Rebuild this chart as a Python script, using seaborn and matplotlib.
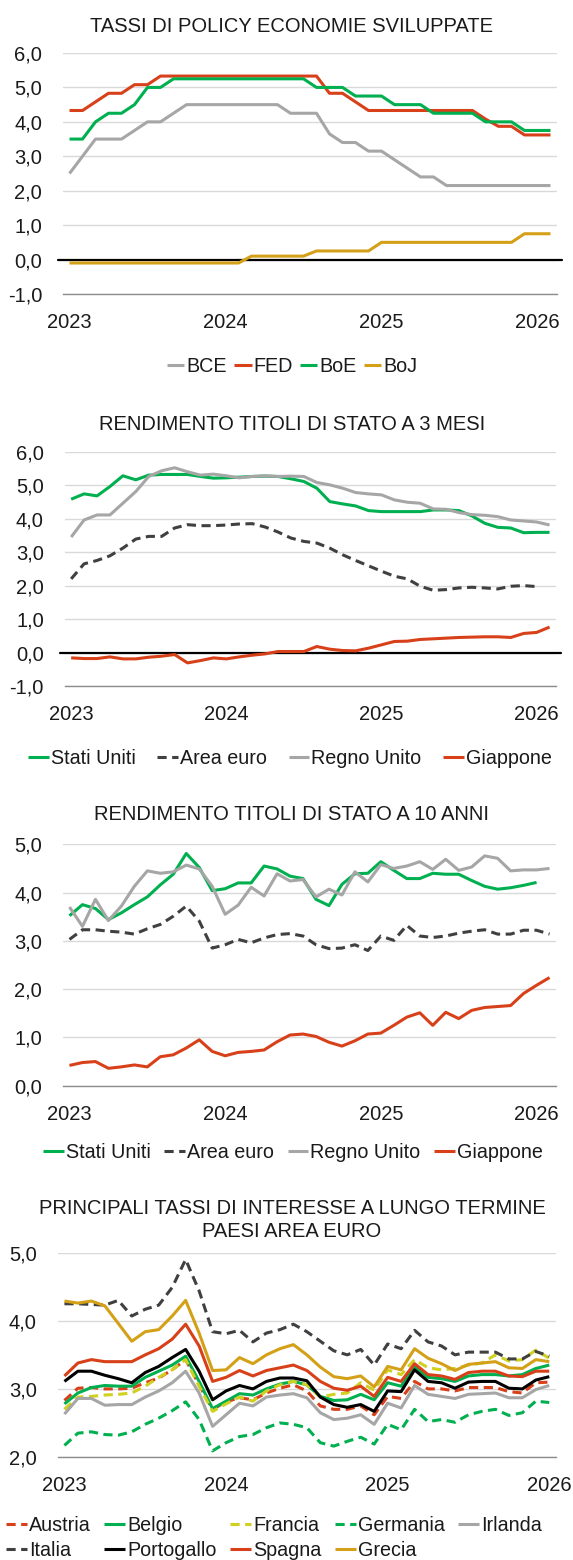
import matplotlib
matplotlib.use("Agg")
import matplotlib.pyplot as plt
import numpy as np
import seaborn as sns
from matplotlib import font_manager
from matplotlib.ticker import FixedLocator, FuncFormatter, NullFormatter

# ---- data: monthly values from Jan 2023 ----
year_labels = ["2023", "2024", "2025", "2026"]

# policy rates (Jan 2023 - Feb 2026)
policy_bce = [2.50, 3.00, 3.50, 3.50, 3.50, 3.75, 4.00, 4.00, 4.25, 4.50, 4.50, 4.50, 4.50,
              4.50, 4.50, 4.50, 4.50, 4.25, 4.25, 4.25, 3.65, 3.40, 3.40, 3.15, 3.15, 2.90,
              2.65, 2.40, 2.40, 2.15, 2.15, 2.15, 2.15, 2.15, 2.15, 2.15, 2.15, 2.15]
policy_fed = [4.33, 4.33, 4.58, 4.83, 4.83, 5.08, 5.08, 5.33, 5.33, 5.33, 5.33, 5.33, 5.33,
              5.33, 5.33, 5.33, 5.33, 5.33, 5.33, 5.33, 4.83, 4.83, 4.58, 4.33, 4.33, 4.33,
              4.33, 4.33, 4.33, 4.33, 4.33, 4.33, 4.08, 3.87, 3.87, 3.62, 3.62, 3.62]
policy_boe = [3.50, 3.50, 4.00, 4.25, 4.25, 4.50, 5.00, 5.00, 5.25, 5.25, 5.25, 5.25, 5.25,
              5.25, 5.25, 5.25, 5.25, 5.25, 5.25, 5.00, 5.00, 5.00, 4.75, 4.75, 4.75, 4.50,
              4.50, 4.50, 4.25, 4.25, 4.25, 4.25, 4.00, 4.00, 4.00, 3.75, 3.75, 3.75]
policy_boj = [-0.10, -0.10, -0.10, -0.10, -0.10, -0.10, -0.10, -0.10, -0.10, -0.10, -0.10,
              -0.10, -0.10, -0.10, 0.10, 0.10, 0.10, 0.10, 0.10, 0.25, 0.25, 0.25, 0.25, 0.25,
              0.50, 0.50, 0.50, 0.50, 0.50, 0.50, 0.50, 0.50, 0.50, 0.50, 0.50, 0.75, 0.75, 0.75]

# 3-month yields
t3_us = [4.58, 4.74, 4.68, 4.96, 5.28, 5.16, 5.30, 5.32, 5.32, 5.32, 5.26, 5.21, 5.22,
         5.24, 5.26, 5.27, 5.26, 5.19, 5.11, 4.91, 4.51, 4.44, 4.38, 4.24, 4.21, 4.21,
         4.21, 4.21, 4.26, 4.26, 4.24, 4.08, 3.86, 3.74, 3.72, 3.58, 3.59, 3.59]
t3_ea = [2.20, 2.65, 2.75, 2.89, 3.12, 3.39, 3.47, 3.47, 3.72, 3.82, 3.79, 3.79, 3.81,
         3.84, 3.85, 3.75, 3.60, 3.42, 3.32, 3.27, 3.12, 2.92, 2.75, 2.59, 2.43, 2.28,
         2.20, 1.98, 1.86, 1.88, 1.93, 1.95, 1.93, 1.90, 1.98, 2.00, 1.97]
t3_uk = [3.45, 3.96, 4.11, 4.11, 4.46, 4.81, 5.26, 5.43, 5.52, 5.40, 5.30, 5.33, 5.28,
         5.22, 5.26, 5.28, 5.26, 5.27, 5.26, 5.08, 5.01, 4.91, 4.78, 4.74, 4.71, 4.56,
         4.49, 4.46, 4.29, 4.28, 4.18, 4.12, 4.10, 4.06, 3.96, 3.93, 3.90, 3.81]
t3_jp = [-0.16, -0.18, -0.18, -0.13, -0.19, -0.19, -0.14, -0.11, -0.06, -0.31, -0.24,
         -0.16, -0.19, -0.13, -0.08, -0.04, 0.03, 0.03, 0.03, 0.18, 0.10, 0.06, 0.05,
         0.13, 0.23, 0.33, 0.34, 0.39, 0.41, 0.43, 0.45, 0.46, 0.47, 0.47, 0.45, 0.57,
         0.60, 0.76]

# 10-year yields
t10_us = [3.52, 3.75, 3.67, 3.44, 3.58, 3.75, 3.91, 4.16, 4.38, 4.81, 4.52, 4.04, 4.08,
          4.20, 4.20, 4.55, 4.49, 4.34, 4.29, 3.86, 3.73, 4.17, 4.39, 4.40, 4.64, 4.46,
          4.29, 4.29, 4.40, 4.38, 4.38, 4.25, 4.13, 4.07, 4.10, 4.15, 4.21]
t10_ea = [3.03, 3.23, 3.23, 3.20, 3.18, 3.14, 3.25, 3.34, 3.51, 3.72, 3.41, 2.85, 2.92,
          3.03, 2.96, 3.06, 3.13, 3.15, 3.10, 2.92, 2.84, 2.85, 2.92, 2.80, 3.10, 3.01,
          3.32, 3.10, 3.07, 3.10, 3.16, 3.20, 3.23, 3.14, 3.14, 3.22, 3.22, 3.14]
t10_uk = [3.70, 3.30, 3.86, 3.42, 3.72, 4.13, 4.45, 4.40, 4.43, 4.57, 4.49, 4.13, 3.55,
          3.74, 4.11, 3.93, 4.39, 4.24, 4.27, 3.91, 4.07, 3.95, 4.43, 4.22, 4.58, 4.50,
          4.55, 4.64, 4.48, 4.69, 4.46, 4.53, 4.76, 4.71, 4.45, 4.47, 4.47, 4.50]
t10_jp = [0.42, 0.48, 0.50, 0.36, 0.39, 0.43, 0.39, 0.60, 0.64, 0.78, 0.95, 0.71, 0.62,
          0.69, 0.71, 0.74, 0.91, 1.05, 1.07, 1.02, 0.90, 0.82, 0.93, 1.07, 1.09, 1.25,
          1.42, 1.51, 1.25, 1.52, 1.39, 1.56, 1.62, 1.64, 1.66, 1.91, 2.08, 2.24]

# euro area long-term rates (Jan 2023 - Jan 2026)
lt_austria = [2.83, 3.01, 3.02, 3.00, 3.00, 3.01, 3.09, 3.16, 3.28, 3.43, 3.06, 2.70, 2.81,
              2.87, 2.84, 2.94, 3.01, 3.06, 2.97, 2.75, 2.70, 2.70, 2.75, 2.62, 2.89, 2.86,
              3.11, 3.00, 3.00, 2.97, 3.02, 3.02, 3.02, 2.96, 2.94, 3.09, 3.10]
lt_belgio = [2.78, 2.94, 3.02, 3.05, 3.04, 3.04, 3.17, 3.26, 3.35, 3.48, 3.11, 2.71, 2.82,
             2.93, 2.91, 3.00, 3.07, 3.11, 3.06, 2.89, 2.83, 2.84, 2.92, 2.84, 3.09, 3.04,
             3.33, 3.17, 3.15, 3.11, 3.19, 3.21, 3.21, 3.19, 3.21, 3.30, 3.35]
lt_francia = [2.70, 2.88, 2.89, 2.91, 2.92, 2.94, 3.04, 3.17, 3.28, 3.43, 3.04, 2.67, 2.78,
              2.88, 2.82, 2.97, 3.06, 3.11, 3.06, 2.88, 2.92, 2.94, 3.09, 2.98, 3.28, 3.21,
              3.43, 3.31, 3.28, 3.30, 3.35, 3.38, 3.50, 3.41, 3.43, 3.57, 3.45]
lt_germania = [2.17, 2.35, 2.37, 2.33, 2.32, 2.37, 2.48, 2.57, 2.68, 2.81, 2.55, 2.09, 2.21,
               2.30, 2.33, 2.43, 2.50, 2.48, 2.43, 2.21, 2.16, 2.23, 2.29, 2.19, 2.48, 2.40,
               2.70, 2.52, 2.55, 2.51, 2.62, 2.67, 2.70, 2.61, 2.65, 2.82, 2.80]
lt_irlanda = [2.63, 2.86, 2.86, 2.76, 2.77, 2.77, 2.88, 2.97, 3.09, 3.26, 2.94, 2.45, 2.62,
              2.79, 2.75, 2.88, 2.91, 2.93, 2.87, 2.65, 2.55, 2.57, 2.62, 2.48, 2.79, 2.72,
              3.05, 2.92, 2.89, 2.86, 2.92, 2.93, 2.94, 2.87, 2.87, 2.99, 3.05]
lt_italia = [4.25, 4.25, 4.24, 4.23, 4.30, 4.07, 4.17, 4.23, 4.49, 4.90, 4.44, 3.84, 3.81,
             3.86, 3.69, 3.82, 3.87, 3.95, 3.84, 3.70, 3.56, 3.50, 3.58, 3.35, 3.66, 3.59,
             3.86, 3.69, 3.63, 3.50, 3.54, 3.54, 3.54, 3.44, 3.44, 3.55, 3.48]
lt_portogallo = [3.11, 3.26, 3.26, 3.20, 3.15, 3.09, 3.24, 3.33, 3.46, 3.58, 3.26, 2.84, 2.97,
                 3.05, 3.00, 3.11, 3.16, 3.16, 3.12, 2.88, 2.77, 2.73, 2.77, 2.67, 2.97, 2.96,
                 3.28, 3.11, 3.09, 3.01, 3.10, 3.11, 3.11, 3.01, 3.00, 3.13, 3.18]
lt_spagna = [3.19, 3.38, 3.43, 3.40, 3.40, 3.40, 3.50, 3.59, 3.73, 3.95, 3.63, 3.11, 3.17,
             3.27, 3.19, 3.27, 3.31, 3.35, 3.27, 3.11, 3.01, 2.98, 3.04, 2.89, 3.17, 3.11,
             3.37, 3.21, 3.19, 3.14, 3.24, 3.26, 3.26, 3.19, 3.18, 3.26, 3.26]
lt_grecia = [4.29, 4.26, 4.29, 4.22, 3.96, 3.70, 3.84, 3.87, 4.07, 4.30, 3.82, 3.27, 3.28,
             3.46, 3.37, 3.50, 3.59, 3.65, 3.50, 3.32, 3.18, 3.15, 3.19, 3.03, 3.33, 3.28,
             3.59, 3.45, 3.37, 3.27, 3.36, 3.38, 3.40, 3.31, 3.30, 3.43, 3.40]

GREEN = "#00B050"
RED = "#D8401A"
GRAY = "#A6A6A6"
GOLD = "#D4A017"
DARK = "#404040"
YELLOW = "#D0D020"
BLACK = "#000000"
DASH = (3, 1.8)

sns.set_style("white")
installed = {f.name for f in font_manager.fontManager.ttflist}
if "Liberation Sans Narrow" in installed:
    plt.rcParams["font.family"] = ["Liberation Sans Narrow", "DejaVu Sans"]
    title_scale, scale, leg_scale = 1.0, 1.0, 1.0
else:
    # no narrow face available: a slightly smaller regular face keeps the widths close
    plt.rcParams["font.family"] = ["Liberation Sans", "DejaVu Sans"]
    title_scale, scale, leg_scale = 0.83, 0.88, 0.86
TITLE_FS = 17.5 * title_scale
TICK_FS = 16.5 * scale
LEG_FS = 16.5 * leg_scale
TXT = "#1a1a1a"

fig = plt.figure(figsize=(5.73, 15.6), dpi=100)
W, H = 573.0, 1560.0


def make_axes(left, right, top, bottom):
    return fig.add_axes([left / W, 1 - bottom / H, (right - left) / W, (bottom - top) / H])


def style_axes(ax, ymin, ymax, nmonths, zero_line=False):
    ax.set_xlim(0, nmonths)
    ax.set_ylim(ymin, ymax)
    for s in ["left", "top", "right"]:
        ax.spines[s].set_visible(False)
    ax.spines["bottom"].set_color("#8c8c8c")
    ax.spines["bottom"].set_linewidth(1.0)
    ax.yaxis.set_major_locator(FixedLocator(np.arange(ymin, ymax + 0.01, 1.0)))
    ax.yaxis.set_major_formatter(FuncFormatter(lambda v, p: f"{v:.1f}".replace(".", ",")))
    ax.grid(axis="y", color="#d9d9d9", linewidth=1.0)
    ax.grid(axis="x", visible=False)
    ax.set_axisbelow(True)
    ax.tick_params(axis="y", length=0, pad=15, labelsize=TICK_FS, labelcolor=TXT)
    # year ticks at January, labels centred on the January point
    ax.xaxis.set_major_locator(FixedLocator([0, 12, 24, 36]))
    ax.xaxis.set_major_formatter(NullFormatter())
    ax.xaxis.set_minor_locator(FixedLocator([0.5, 12.5, 24.5, 36.5]))
    ax.xaxis.set_minor_formatter(FuncFormatter(lambda v, p: year_labels[int(v // 12)]))
    ax.tick_params(axis="x", which="major", length=5, width=1, color="#8c8c8c", direction="out")
    ax.tick_params(axis="x", which="minor", length=0, pad=14, labelsize=TICK_FS, labelcolor=TXT)
    ax.set_xlabel("")
    ax.set_ylabel("")
    if zero_line:
        ax.axhline(0, xmin=-0.01, xmax=1.01, color="black", linewidth=1.6, zorder=1.5,
                   clip_on=False)


def draw(ax, values, color, label, dashed=False):
    x = np.arange(len(values)) + 0.5
    sns.lineplot(x=x, y=values, ax=ax, color=color, linewidth=2.2, label=label, legend=False)
    line = ax.get_lines()[-1]
    line.set_solid_capstyle("butt")
    if dashed:
        line.set_dashes(DASH)
        line.set_dash_capstyle("butt")
    return line


def add_legend(ax, handles, labels, cx, cy, ncol, hl, cs, ls=0.05):
    ax.legend(handles, labels, loc="center", bbox_to_anchor=(cx / W, 1 - cy / H),
              bbox_transform=fig.transFigure, ncol=ncol, frameon=False, fontsize=LEG_FS,
              handlelength=hl, handletextpad=0.1, columnspacing=cs, borderaxespad=0,
              borderpad=0, labelspacing=ls, labelcolor=TXT)


def title(text, y):
    fig.text(292 / W, 1 - y / H, text, ha="center", va="center", fontsize=TITLE_FS,
             color=TXT, linespacing=1.3)


# ---- panel 1: policy rates ----
ax1 = make_axes(63, 557, 53, 294)
h = [draw(ax1, policy_bce, GRAY, "BCE"), draw(ax1, policy_fed, RED, "FED"),
     draw(ax1, policy_boe, GREEN, "BoE"), draw(ax1, policy_boj, GOLD, "BoJ")]
style_axes(ax1, -1, 6, 38, zero_line=True)
title("TASSI DI POLICY ECONOMIE SVILUPPATE", 27)
add_legend(ax1, h, ["BCE", "FED", "BoE", "BoJ"], 292, 366, 4, 0.9, 0.35)

# ---- panel 2: 3-month yields ----
ax2 = make_axes(64.7, 556, 451.7, 686)
h = [draw(ax2, t3_us, GREEN, "Stati Uniti"), draw(ax2, t3_ea, DARK, "Area euro", dashed=True),
     draw(ax2, t3_uk, GRAY, "Regno Unito"), draw(ax2, t3_jp, RED, "Giappone")]
style_axes(ax2, -1, 6, 38, zero_line=True)
title("RENDIMENTO TITOLI DI STATO A 3 MESI", 425)
add_legend(ax2, h, ["Stati Uniti", "Area euro", "Regno Unito", "Giappone"], 290, 758, 4,
           1.05, 1.1)

# ---- panel 3: 10-year yields ----
ax3 = make_axes(63, 556, 844.3, 1085.7)
h = [draw(ax3, t10_us, GREEN, "Stati Uniti"), draw(ax3, t10_ea, DARK, "Area euro", dashed=True),
     draw(ax3, t10_uk, GRAY, "Regno Unito"), draw(ax3, t10_jp, RED, "Giappone")]
style_axes(ax3, 0, 5, 38)
title("RENDIMENTO TITOLI DI STATO A 10 ANNI", 815)
add_legend(ax3, h, ["Stati Uniti", "Area euro", "Regno Unito", "Giappone"], 293, 1152, 4,
           1.05, 0.7)

# ---- panel 4: euro area long-term rates ----
ax4 = make_axes(57.7, 556, 1252.7, 1457)
series4 = [
    ("Austria", lt_austria, RED, True),
    ("Belgio", lt_belgio, GREEN, False),
    ("Francia", lt_francia, YELLOW, True),
    ("Germania", lt_germania, GREEN, True),
    ("Irlanda", lt_irlanda, GRAY, False),
    ("Italia", lt_italia, DARK, True),
    ("Portogallo", lt_portogallo, BLACK, False),
    ("Spagna", lt_spagna, RED, False),
    ("Grecia", lt_grecia, GOLD, False),
]
lines4 = {name: draw(ax4, vals, col, name, dashed=d) for name, vals, col, d in series4}
style_axes(ax4, 2, 5, 37)
title("PRINCIPALI TASSI DI INTERESSE A LUNGO TERMINE\nPAESI AREA EURO", 1220)
# column-major order so rows read Austria..Irlanda / Italia..Grecia
order = ["Austria", "Italia", "Belgio", "Portogallo", "Francia", "Spagna", "Germania",
         "Grecia", "Irlanda"]
add_legend(ax4, [lines4[n] for n in order], order, 274, 1538, 5, 1.05, 0.7, ls=0.3)

fig.savefig("out.png", dpi=100)
